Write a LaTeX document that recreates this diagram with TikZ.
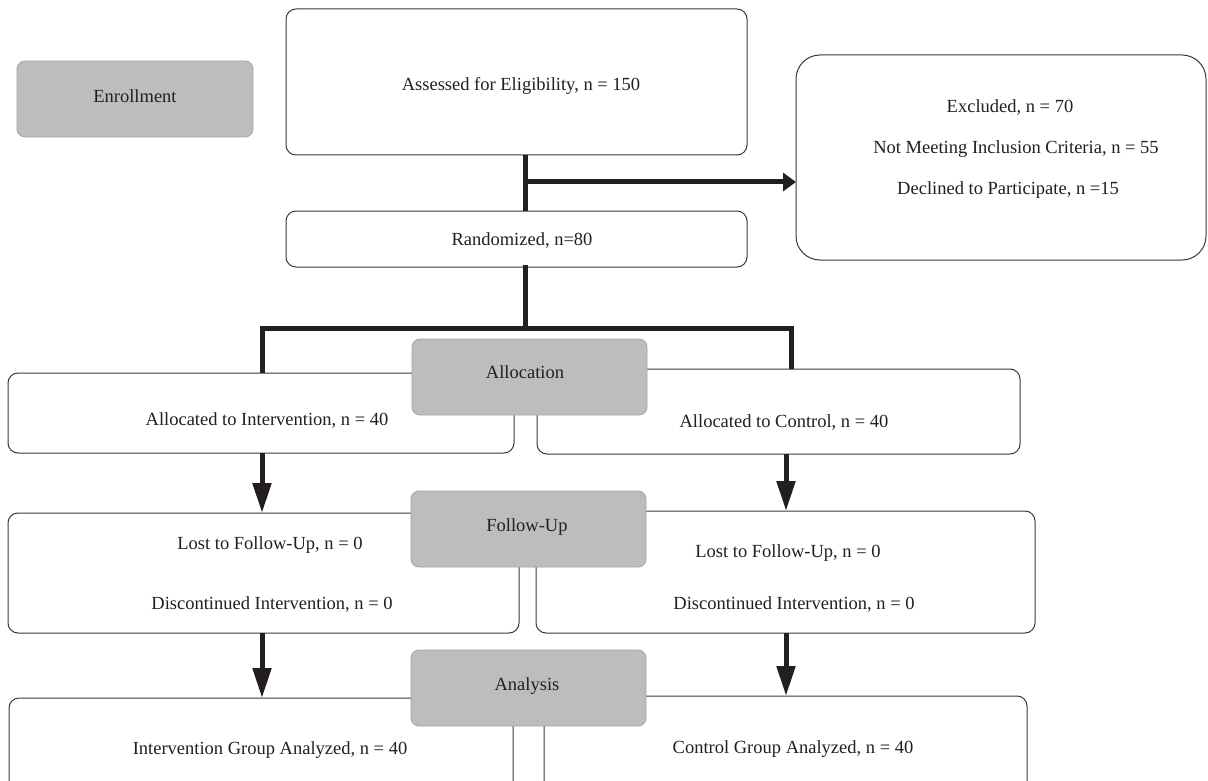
\documentclass[tikz,border=0pt]{standalone}
\usepackage{fontspec}
\setmainfont{Liberation Serif}
\usetikzlibrary{arrows.meta}
\definecolor{ink}{HTML}{231F20}
\definecolor{gfill}{HTML}{BEBDBE}
\definecolor{gline}{HTML}{A4A4A4}
\definecolor{boxline}{HTML}{3A3A3A}
\tikzset{
  wbox/.style={draw=boxline, line width=1pt, fill=white, rounded corners=10pt, inner sep=0pt, outer sep=0pt},
  gbox/.style={draw=gline, line width=0.8pt, fill=gfill, rounded corners=8pt, inner sep=0pt, outer sep=0pt},
  txt/.style={font=\fontsize{18.5}{21}\selectfont, text=ink, inner sep=0pt, anchor=base},
  conn/.style={draw=ink, line width=5pt},
  arrv/.style={conn, -{Triangle[length=30pt,width=18pt]}},
  arrh/.style={conn, -{Triangle[length=13pt,width=18pt]}}
}
\begin{document}
\begin{tikzpicture}[x=1pt,y=-1pt]
\clip (0,0) rectangle (1208,781);
\fill[white] (0,0) rectangle (1208,781);
% boxes
\node[gbox, minimum width=236pt, minimum height=76pt] (enroll) at (135,99) {};
\node[wbox, minimum width=461pt, minimum height=146pt] (assess) at (516.5,82) {};
\node[wbox, rounded corners=24pt, minimum width=410pt, minimum height=205pt] (excl) at (1001,157.5) {};
\node[wbox, minimum width=461pt, minimum height=56pt] (random) at (516.5,239) {};
\node[wbox, minimum width=506pt, minimum height=80pt] (allocI) at (261,413) {};
\node[wbox, minimum width=483pt, minimum height=85pt] (allocC) at (778.5,411.5) {};
\node[gbox, minimum width=235pt, minimum height=76pt] (allocG) at (529.5,377) {};
\node[wbox, minimum width=511pt, minimum height=120pt] (lostI) at (263.5,573) {};
\node[wbox, minimum width=499pt, minimum height=122pt] (lostC) at (785.5,572) {};
\node[gbox, minimum width=235pt, minimum height=76pt] (followG) at (528.5,529) {};
\node[wbox, minimum width=504pt, minimum height=102pt] (anaI) at (261,749) {};
\node[wbox, minimum width=483pt, minimum height=104pt] (anaC) at (785.5,748) {};
\node[gbox, minimum width=235pt, minimum height=76pt] (anaG) at (528.5,688) {};
% texts
\node[txt] (tEnroll) at (135,103) {Enrollment};
\node[txt] (tAssess) at (521,91) {Assessed for Eligibility, n = 150};
\node[txt] (tEx1) at (1010,113) {Excluded, n = 70};
\node[txt] (tEx2) at (1016,154) {Not Meeting Inclusion Criteria, n = 55};
\node[txt] (tEx3) at (1008,194) {Declined to Participate, n =15};
\node[txt] (tRand) at (522,245) {Randomized, n=80};
\node[txt] (tAllocG) at (525,378) {Allocation};
\node[txt] (tAllocI) at (267,425) {Allocated to Intervention, n = 40};
\node[txt] (tAllocC) at (784,427) {Allocated to Control, n = 40};
\node[txt] (tFollowG) at (527,531) {Follow-Up};
\node[txt] (tLostI1) at (270,549) {Lost to Follow-Up, n = 0};
\node[txt] (tLostI2) at (272,609) {Discontinued Intervention, n = 0};
\node[txt] (tLostC1) at (788,557) {Lost to Follow-Up, n = 0};
\node[txt] (tLostC2) at (794,609) {Discontinued Intervention, n = 0};
\node[txt] (tAnaG) at (527,690) {Analysis};
\node[txt] (tAnaI) at (270,754) {Intervention Group Analyzed, n = 40};
\node[txt] (tAnaC) at (793,753) {Control Group Analyzed, n = 40};
% connector coordinates
\coordinate (trunk) at (525,182);
\coordinate (split) at (525,328);
\coordinate (lx) at (262,328);
\coordinate (rx) at (791,328);
\coordinate (lax) at (262,0);
\coordinate (rax) at (786,0);
% connectors
\draw[conn] (assess.south -| trunk) -- (random.north -| trunk);
\draw[arrh] (trunk) -- (excl.west |- trunk);
\draw[conn, line cap=rect] (random.south -| split) -- (split);
\draw[conn, line join=miter] (allocI.north -| lx) -- (lx) -- (rx) -- (allocC.north -| rx);
\draw[arrv] (allocI.south -| lax) -- (lostI.north -| lax);
\draw[arrv] (allocC.south -| rax) -- (lostC.north -| rax);
\draw[arrv] (lostI.south -| lax) -- (anaI.north -| lax);
\draw[arrv] (lostC.south -| rax) -- (anaC.north -| rax);
\end{tikzpicture}
\end{document}
